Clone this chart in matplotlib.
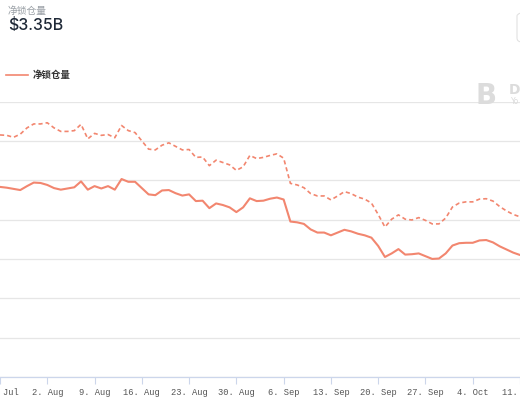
import matplotlib
matplotlib.use("Agg")
import matplotlib.pyplot as plt
import matplotlib.dates as mdates
import numpy as np
import datetime as dt
from matplotlib.patches import FancyBboxPatch

plt.rcParams['font.family'] = ['Noto Sans CJK SC', 'DejaVu Sans']

# ---- data (billions USD), daily from 26 Jul ----
start = dt.date(2021, 7, 26)
tvl = [4.83, 4.81, 4.78, 4.75, 4.85, 4.94, 4.93, 4.88, 4.80, 4.76,
       4.79, 4.82, 4.97, 4.76, 4.85, 4.79, 4.85, 4.76, 5.03, 4.96,
       4.96, 4.80, 4.64, 4.62, 4.74, 4.75, 4.67, 4.61, 4.64, 4.47,
       4.48, 4.29, 4.41, 4.37, 4.31, 4.19, 4.31, 4.54, 4.47, 4.48,
       4.53, 4.56, 4.51, 3.95, 3.93, 3.89, 3.75, 3.67, 3.67, 3.60,
       3.67, 3.74, 3.70, 3.64, 3.60, 3.54, 3.33, 3.05, 3.14, 3.25,
       3.11, 3.12, 3.14, 3.07, 3.00, 3.01, 3.14, 3.34, 3.40, 3.41,
       3.41, 3.47, 3.48, 3.42, 3.32, 3.24, 3.16, 3.10]
tvl_dashed = [6.15, 6.14, 6.09, 6.17, 6.33, 6.43, 6.43, 6.46, 6.33, 6.24,
              6.24, 6.26, 6.42, 6.05, 6.19, 6.14, 6.16, 6.08, 6.39, 6.26,
              6.21, 6.00, 5.79, 5.77, 5.89, 5.95, 5.86, 5.77, 5.78, 5.58,
              5.59, 5.37, 5.51, 5.45, 5.39, 5.25, 5.34, 5.63, 5.55, 5.58,
              5.63, 5.67, 5.56, 4.92, 4.88, 4.81, 4.66, 4.60, 4.60, 4.50,
              4.60, 4.71, 4.66, 4.57, 4.52, 4.42, 4.13, 3.81, 4.01, 4.12,
              4.01, 3.99, 4.05, 3.98, 3.89, 3.89, 4.04, 4.32, 4.42, 4.45,
              4.45, 4.52, 4.53, 4.47, 4.33, 4.22, 4.13, 4.07]
dates = [start + dt.timedelta(days=i) for i in range(len(tvl))]
tick_dates = [dt.date(2021, 7, 26), dt.date(2021, 8, 2), dt.date(2021, 8, 9),
              dt.date(2021, 8, 16), dt.date(2021, 8, 23), dt.date(2021, 8, 30),
              dt.date(2021, 9, 6), dt.date(2021, 9, 13), dt.date(2021, 9, 20),
              dt.date(2021, 9, 27), dt.date(2021, 10, 4), dt.date(2021, 10, 11)]
tick_labels = ["26. Jul", "2. Aug", "9. Aug", "16. Aug", "23. Aug", "30. Aug",
               "6. Sep", "13. Sep", "20. Sep", "27. Sep", "4. Oct", "11. Oct"]
title_small = "净锁仓量"
title_big = "$3.35B"
legend_label = "净锁仓量"

color = "#f2866f"

fig = plt.figure(figsize=(5.2, 4.0), dpi=100)
ax = fig.add_axes([0, 23/400, 1, (377-101.5)/400])

ax.plot(dates, tvl, color=color, lw=1.5, solid_joinstyle='round', solid_capstyle='round')
ax.plot(dates, tvl_dashed, color=color, lw=1.2, ls=(0, (2.5, 1.8)), dash_joinstyle='round')

ax.set_ylim(0, 7)
ax.set_yticks(range(0, 8))
ax.yaxis.grid(True, color="#e6e6e6", lw=0.9)
ax.set_axisbelow(True)
ax.tick_params(axis='y', left=False, labelleft=False)

x0 = mdates.date2num(start) + 5.5/6.937
x1 = mdates.date2num(start) + 525.5/6.937
ax.set_xlim(x0, x1)
ax.set_xticks([mdates.date2num(d) for d in tick_dates])
ax.set_xticklabels(tick_labels, family=['Liberation Mono', 'DejaVu Sans Mono'],
                   fontsize=6.3, color="#555555")
ax.tick_params(axis='x', length=5, width=0.8, color="#ccd6eb", pad=3)

for s in ['top', 'left', 'right']:
    ax.spines[s].set_visible(False)
ax.spines['bottom'].set_color("#ccd6eb")
ax.spines['bottom'].set_linewidth(0.9)

# header texts
fig.text(8/520, 1-11/400, title_small, fontsize=7, color="#9aa0a6", va='center', ha='left')
fig.text(8/520, 1-25.5/400, title_big, fontsize=11.5, color="#1f2937", va='center', ha='left',
         family=['Inter', 'DejaVu Sans'], fontweight='medium')

# legend
fig.add_artist(plt.Line2D([6/520, 28/520], [1-75/400, 1-75/400], color=color, lw=1.2))
fig.text(33/520, 1-75/400, legend_label, fontsize=6.8, color="#333333", va='center',
         ha='left', fontweight='bold')

# watermark logo
fig.text(476/520, 1-96/400, "B", fontsize=20, color="#dcdcdc", fontweight='bold',
         va='center', ha='left', family=['DejaVu Sans'])
fig.text(509/520, 1-90/400, "D", fontsize=10, color="#dcdcdc", fontweight='bold',
         va='center', ha='left', family=['DejaVu Sans'])
fig.text(511/520, 1-102/400, "Yo", fontsize=5.5, color="#dcdcdc",
         va='center', ha='left', family=['DejaVu Sans'])

# partially visible button at top right
fig.add_artist(FancyBboxPatch((517/520, 1-42/400), 20/520, 30/400,
                              boxstyle="round,pad=0,rounding_size=0.01",
                              transform=fig.transFigure, fill=False,
                              edgecolor="#e2e2e2", lw=0.8))

fig.savefig("out.png", dpi=100)
